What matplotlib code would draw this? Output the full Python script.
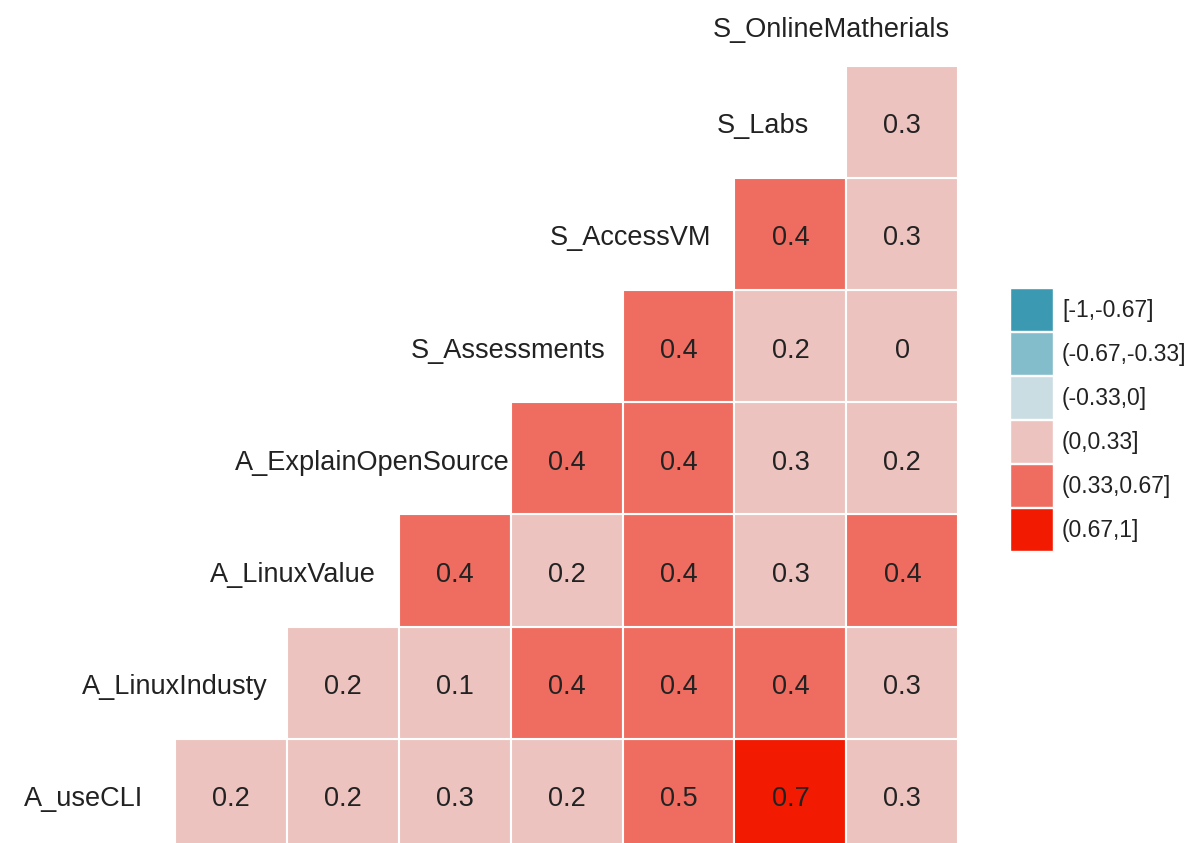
import matplotlib
matplotlib.use("Agg")
import matplotlib.pyplot as plt
from matplotlib.patches import Rectangle

plt.rcParams['font.family'] = ['Liberation Sans', 'DejaVu Sans']

variables = ["A_useCLI", "A_LinuxIndusty", "A_LinuxValue", "A_ExplainOpenSource",
             "S_Assessments", "S_AccessVM", "S_Labs", "S_OnlineMatherials"]

# correlations of each variable with the variables to its right (upper triangle rows)
cor_useCLI = [0.2, 0.2, 0.3, 0.2, 0.5, 0.7, 0.3]
cor_LinuxIndusty = [0.2, 0.1, 0.4, 0.4, 0.4, 0.3]
cor_LinuxValue = [0.4, 0.2, 0.4, 0.3, 0.4]
cor_ExplainOpenSource = [0.4, 0.4, 0.3, 0.2]
cor_Assessments = [0.4, 0.2, 0.04]
cor_AccessVM = [0.4, 0.3]
cor_Labs = [0.3]
rows = [cor_useCLI, cor_LinuxIndusty, cor_LinuxValue, cor_ExplainOpenSource,
        cor_Assessments, cor_AccessVM, cor_Labs]

bin_edges = [-1, -0.67, -0.33, 0, 0.33, 0.67, 1]
bin_labels = ["[-1,-0.67]", "(-0.67,-0.33]", "(-0.33,0]", "(0,0.33]", "(0.33,0.67]", "(0.67,1]"]
bin_colors = ["#3B9AB2", "#83BCCA", "#CADDE2", "#EDC3BF", "#EF6D60", "#F21A00"]

def bin_color(v):
    for k in range(len(bin_edges) - 1):
        if v <= bin_edges[k + 1]:
            return bin_colors[k]
    return bin_colors[-1]

W, H = 1197, 843
fig = plt.figure(figsize=(W / 100, H / 100), dpi=100)
ax = fig.add_axes([0, 0, 1, 1])
ax.set_axis_off()

# pixel geometry of the grid
x0_px, cw = 63.1, 111.9      # left edge of column 1, column width
ybot_px, rh = 851.0, 112.2   # bottom edge of row 1, row height
ax.set_xlim(0.5 - x0_px / cw, 0.5 + (W - x0_px) / cw)
ax.set_ylim(0.5 + (ybot_px - H) / rh, 0.5 + ybot_px / rh)

n = len(variables)
for i, vals in enumerate(rows):
    yi = i + 1
    for k, v in enumerate(vals):
        xj = i + 2 + k
        ax.add_patch(Rectangle((xj - 0.5, yi - 0.5), 1, 1, facecolor=bin_color(v),
                               edgecolor="white", linewidth=1.5))
        ax.text(xj, yi - 0.04, "%g" % round(v, 1), ha="center", va="center",
                fontsize=19.5, color="#222222")

fig.canvas.draw()
renderer = fig.canvas.get_renderer()
for i, name in enumerate(variables):
    yi = i + 1 - 0.04
    if i == n - 1:
        yi = i + 1 - 0.18
    t = ax.text(i + 1, yi, name, ha="right", va="center", fontsize=19.5, color="#222222",
                clip_on=False)
    bb = t.get_window_extent(renderer)
    wd = bb.width / cw
    t.set_x(i + 1 + 0.2 * wd)

# legend drawn as keys in figure pixel space
lx, ly0, key, step = 1010, 288, 43, 44
for k, (c, lab) in enumerate(zip(bin_colors, bin_labels)):
    top = ly0 + k * step
    fig.patches.append(Rectangle((lx / W, 1 - (top + key) / H), key / W, key / H,
                                 transform=fig.transFigure, facecolor=c,
                                 edgecolor="white", linewidth=1.0))
    fig.text((lx + key + 9) / W, 1 - (top + key / 2 + 1) / H, lab, ha="left",
             va="center", fontsize=16.5, color="#222222")

fig.savefig("out.png", dpi=100)
